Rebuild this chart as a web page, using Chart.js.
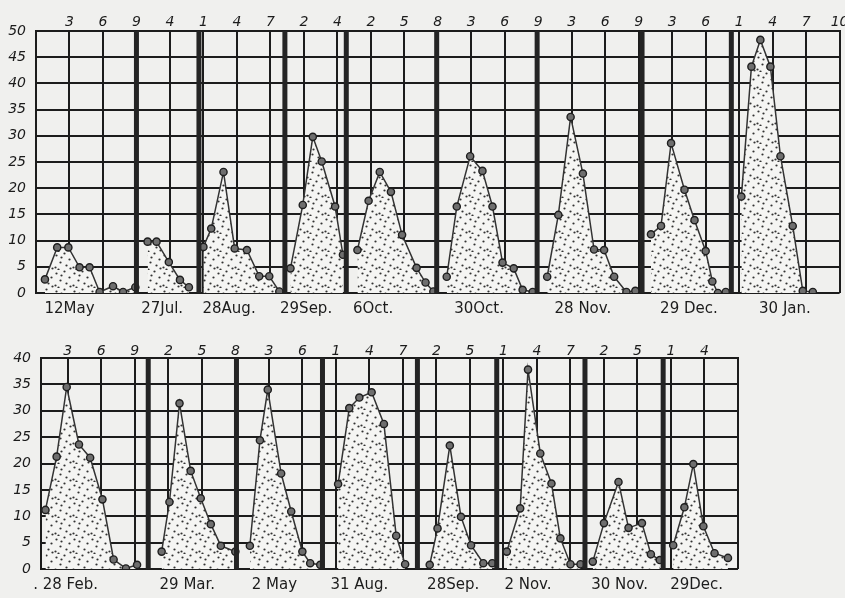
<!DOCTYPE html>
<html>
<head>
<meta charset="utf-8">
<script src="https://cdn.jsdelivr.net/npm/chart.js@4.4.1/dist/chart.umd.min.js"></script>
<style>
  body { margin: 0; background: #f0f0ee; }
  #wrap { position: relative; width: 845px; height: 598px; overflow: hidden; }
  canvas { position: absolute; left: 0; }
</style>
</head>
<body>
<div id="wrap">
  <canvas id="bottomChart" width="845" height="278" style="top:320px"></canvas>
  <canvas id="topChart" width="845" height="330" style="top:0"></canvas>
</div>
<script>
// ---- top panel: tick labels, outbreak names, separators ----
const topTickLabels = ['', '3', '6', '9', '4', '1', '4', '7', '2', '4', '2', '5', '8', '3', '6', '9', '3', '6', '9', '3', '6', '1', '4', '7', '10'];
const topNames = ['12May', '27Jul.', '28Aug.', '29Sep.', '6Oct.', '30Oct.', '28 Nov.', '29 Dec.', '30 Jan.'];
const topNameDays = [3.0, 11.3, 17.3, 24.2, 30.2, 39.7, 49.0, 58.5, 67.1];
const topSeparators = [9.0, 14.6, 22.3, 27.8, 35.9, 44.9, 54.3, 62.3];

// day / value pairs for each outbreak (top)
const may12Days = [0.8, 1.9, 2.9, 3.9, 4.8, 5.7, 6.9, 7.8, 8.9];
const may12Vals = [2.6, 8.7, 8.7, 4.9, 4.9, 0.2, 1.3, 0.2, 1.1];
const jul27Days = [10.0, 10.8, 11.9, 12.9, 13.7];
const jul27Vals = [9.8, 9.8, 5.9, 2.5, 1.1];
const aug28Days = [15.0, 15.7, 16.8, 17.8, 18.9, 20.0, 20.9, 21.8];
const aug28Vals = [8.8, 12.3, 23.1, 8.5, 8.2, 3.2, 3.2, 0.3];
const sep29Days = [22.8, 23.9, 24.8, 25.6, 26.8, 27.5];
const sep29Vals = [4.7, 16.8, 29.8, 25.1, 16.5, 7.3];
const oct6Days = [28.8, 29.8, 30.8, 31.8, 32.8, 34.1, 34.9, 35.6];
const oct6Vals = [8.2, 17.6, 23.1, 19.3, 11.1, 4.8, 2.0, 0.3];
const oct30Days = [36.8, 37.7, 38.9, 40.0, 40.9, 41.8, 42.8, 43.6, 44.5];
const oct30Vals = [3.1, 16.5, 26.1, 23.3, 16.5, 5.8, 4.7, 0.6, 0.2];
const nov28Days = [45.8, 46.8, 47.9, 49.0, 50.0, 50.9, 51.8, 52.9, 53.7];
const nov28Vals = [3.1, 14.9, 33.6, 22.8, 8.3, 8.2, 3.1, 0.2, 0.4];
const dec29Days = [55.1, 56.0, 56.9, 58.1, 59.0, 60.0, 60.6, 61.1, 61.8];
const dec29Vals = [11.2, 12.8, 28.6, 19.7, 13.9, 8.0, 2.2, 0.0, 0.2];
const jan30Days = [63.2, 64.1, 64.9, 65.8, 66.7, 67.8, 68.7, 69.6];
const jan30Vals = [18.4, 43.2, 48.3, 43.2, 26.1, 12.8, 0.4, 0.2];

// ---- bottom panel ----
const bottomTickLabels = ['', '3', '6', '9', '2', '5', '8', '3', '6', '1', '4', '7', '2', '5', '1', '4', '7', '2', '5', '1', '4', ''];
const bottomNames = ['. 28 Feb.', '29 Mar.', '2 May', '31 Aug.', '28Sep.', '2 Nov.', '30 Nov.', '29Dec.'];
const bottomNameDays = [2.8, 13.7, 21.5, 29.1, 37.5, 44.2, 52.4, 59.3];
const bottomSeparators = [10.2, 18.1, 25.8, 34.3, 41.4, 49.3, 56.3];

const feb28Days = [1.0, 2.0, 2.9, 4.0, 5.0, 6.1, 7.1, 8.2, 9.2];
const feb28Vals = [11.2, 21.3, 34.5, 23.6, 21.1, 13.2, 1.8, 0.1, 0.8];
const mar29Days = [11.4, 12.1, 13.0, 14.0, 14.9, 15.8, 16.7, 18.0];
const mar29Vals = [3.3, 12.7, 31.4, 18.6, 13.4, 8.5, 4.4, 3.3];
const may2Days = [19.3, 20.2, 20.9, 22.1, 23.0, 24.0, 24.7, 25.6];
const may2Vals = [4.4, 24.4, 34.0, 18.1, 10.9, 3.3, 1.1, 0.8];
const aug31Days = [27.2, 28.2, 29.1, 30.2, 31.3, 32.4, 33.2];
const aug31Vals = [16.1, 30.5, 32.5, 33.5, 27.5, 6.3, 0.9];
const sep28Days = [35.4, 36.1, 37.2, 38.2, 39.1, 40.2, 41.0];
const sep28Vals = [0.8, 7.7, 23.4, 9.9, 4.5, 1.1, 1.1];
const nov2Days = [42.3, 43.5, 44.2, 45.3, 46.3, 47.1, 48.0, 48.9];
const nov2Vals = [3.3, 11.5, 37.8, 21.9, 16.2, 5.8, 0.9, 0.9];
const nov30Days = [50.0, 51.0, 52.3, 53.2, 54.4, 55.2, 56.0];
const nov30Vals = [1.4, 8.7, 16.5, 7.8, 8.7, 2.8, 1.7];
const dec29bDays = [57.2, 58.2, 59.0, 59.9, 60.9, 62.1];
const dec29bVals = [4.5, 11.7, 19.9, 8.1, 3.0, 2.1];

const INK = '#1c1c1c';
const numFont = { family: "'DejaVu Sans', sans-serif", size: 14, style: 'italic' };
const nameFont = { family: "'DejaVu Sans', sans-serif", size: 15 };

// stippled fill, like the printed dots
function makeStipple() {
    const c = document.createElement('canvas');
    c.width = 18; c.height = 18;
    const g = c.getContext('2d');
    g.fillStyle = '#f5f5f3';
    g.fillRect(0, 0, 18, 18);
    g.fillStyle = '#333';
    [[2, 3], [10, 1], [15, 7], [6, 10], [12, 13], [1, 15], [7, 5], [16, 16], [4, 17]].forEach(([x, y]) => {
        g.beginPath();
        g.arc(x + 0.5, y + 0.5, 1.1, 0, Math.PI * 2);
        g.fill();
    });
    return g.createPattern(c, 'repeat');
}
const stipple = makeStipple();

function outbreak(days, vals) {
    return {
        data: days.map((d, i) => ({ x: d, y: vals[i] })),
        borderColor: '#333',
        borderWidth: 1.5,
        backgroundColor: stipple,
        fill: 'origin',
        tension: 0,
        pointRadius: 3.6,
        pointBackgroundColor: '#6e6e6e',
        pointBorderColor: '#1e1e1e',
        pointBorderWidth: 1.4
    };
}

function separator(day, top) {
    return {
        data: [{ x: day, y: 0 }, { x: day, y: top }],
        borderColor: '#242424',
        borderWidth: 5,
        pointRadius: 0,
        fill: false
    };
}

function buildPanel(id, p) {
    const datasets = [
        ...p.separators.map(s => separator(s, p.yMax)),
        ...p.series.map(([d, v]) => outbreak(d, v))
    ];
    new Chart(document.getElementById(id), {
        type: 'line',
        data: { datasets },
        options: {
            responsive: false,
            animation: false,
            layout: { padding: { left: 0, right: p.padRight, top: 0, bottom: 0 } },
            plugins: { legend: { display: false }, tooltip: { enabled: false } },
            scales: {
                x: {
                    type: 'linear',
                    position: 'top',
                    min: p.xMin,
                    max: p.xMax,
                    afterBuildTicks: scale => {
                        const ticks = [{ value: p.xMin }];
                        for (let d = 3; d <= p.xMax; d += 3) ticks.push({ value: d });
                        scale.ticks = ticks;
                    },
                    afterFit: scale => {
                        scale.height = p.topH;
                        scale.paddingLeft = 0;
                        scale.paddingRight = 0;
                    },
                    grid: { color: INK, lineWidth: 2, drawTicks: false },
                    border: { color: INK, width: 2 },
                    ticks: {
                        padding: p.topPad,
                        maxRotation: 0,
                        autoSkip: false,
                        color: INK,
                        font: numFont,
                        callback: (v, i) => p.tickLabels[i] ?? ''
                    }
                },
                names: {
                    type: 'linear',
                    position: 'bottom',
                    min: p.xMin,
                    max: p.xMax,
                    afterBuildTicks: scale => {
                        scale.ticks = p.nameDays.map(v => ({ value: v }));
                    },
                    afterFit: scale => {
                        scale.height = p.bottomH;
                        scale.paddingLeft = 0;
                        scale.paddingRight = 0;
                    },
                    grid: { display: false, drawTicks: false },
                    border: { display: false },
                    ticks: {
                        padding: 7,
                        maxRotation: 0,
                        autoSkip: false,
                        color: INK,
                        font: nameFont,
                        callback: (v, i) => p.names[i] ?? ''
                    }
                },
                y: {
                    min: 0,
                    max: p.yMax,
                    afterFit: scale => { scale.width = p.leftW; },
                    grid: { color: INK, lineWidth: 2, drawTicks: false },
                    border: { color: INK, width: 2 },
                    ticks: { stepSize: 5, padding: 10, color: INK, font: numFont }
                }
            }
        }
    });
}

buildPanel('topChart', {
    xMin: 0, xMax: 72, yMax: 50,
    leftW: 36, padRight: 5, topH: 31, bottomH: 37, topPad: 0,
    tickLabels: topTickLabels, names: topNames, nameDays: topNameDays,
    separators: topSeparators,
    series: [[may12Days, may12Vals], [jul27Days, jul27Vals], [aug28Days, aug28Vals],
             [sep29Days, sep29Vals], [oct6Days, oct6Vals], [oct30Days, oct30Vals],
             [nov28Days, nov28Vals], [dec29Days, dec29Vals], [jan30Days, jan30Vals]]
});

buildPanel('bottomChart', {
    xMin: 0.6, xMax: 63, yMax: 40,
    leftW: 41, padRight: 107, topH: 38, bottomH: 29, topPad: -2,
    tickLabels: bottomTickLabels, names: bottomNames, nameDays: bottomNameDays,
    separators: bottomSeparators,
    series: [[feb28Days, feb28Vals], [mar29Days, mar29Vals], [may2Days, may2Vals],
             [aug31Days, aug31Vals], [sep28Days, sep28Vals], [nov2Days, nov2Vals],
             [nov30Days, nov30Vals], [dec29bDays, dec29bVals]]
});
</script>
</body>
</html>
